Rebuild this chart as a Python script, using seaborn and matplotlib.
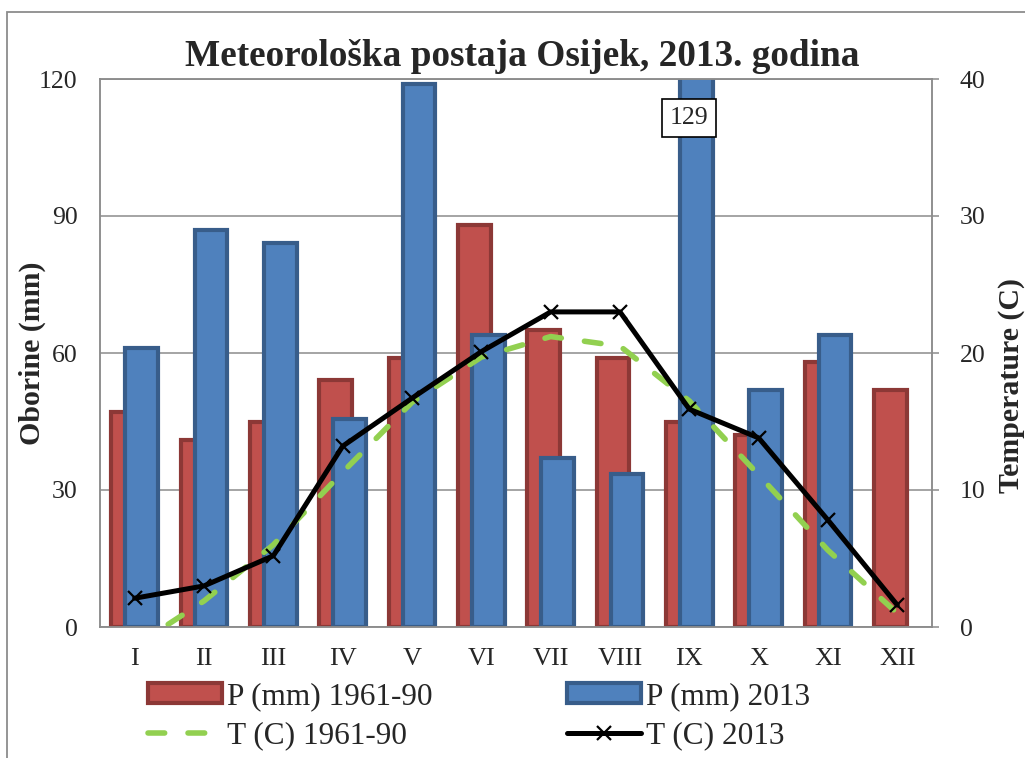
import numpy as np
import pandas as pd
import matplotlib
matplotlib.use("Agg")
import matplotlib.pyplot as plt
import seaborn as sns
from matplotlib.patches import Rectangle, Patch
from matplotlib.lines import Line2D

# ---------------- data ----------------
months = ["I", "II", "III", "IV", "V", "VI", "VII", "VIII", "IX", "X", "XI", "XII"]
p_normal = [47, 41, 45, 54, 59, 88, 65, 59, 45, 42, 58, 52]          # P (mm) 1961-90
p_2013 = [61, 87, 84, 45.5, 119, 64, 37, 33.5, 129, 52, 64, np.nan]  # P (mm) 2013
t_normal = [-1.4, 1.9, 6.0, 11.3, 16.4, 19.7, 21.2, 20.5, 16.5, 11.1, 5.6, 1.0]  # T (C) 1961-90
t_2013 = [2.1, 3.0, 5.2, 13.2, 16.7, 20.1, 23.0, 23.0, 15.9, 13.8, 7.8, 1.6]     # T (C) 2013
p_ticks = [0, 30, 60, 90, 120]
t_ticks = [0, 10, 20, 30, 40]

title = "Meteorološka postaja Osijek, 2013. godina"
lab_pn = "P (mm) 1961-90"
lab_p13 = "P (mm) 2013"
lab_tn = "T (C) 1961-90"
lab_t13 = "T (C) 2013"
ylabel_left = "Oborine (mm)"
ylabel_right = "Temperature (C)"
outlier_label = "129"

# ---------------- style ----------------
RED, RED_E = "#C0504D", "#8C3836"
BLUE, BLUE_E = "#4F81BD", "#385D8A"
GREEN = "#92D050"
GRID = "#8C8C8C"

sns.set_style("white")
plt.rcParams["font.family"] = ["Liberation Serif", "DejaVu Serif"]

W, H = 1025, 758
fig = plt.figure(figsize=(W / 100, H / 100), dpi=100)
ax = fig.add_axes([100 / W, 1 - 627 / H, 832 / W, 548 / H])

df = pd.DataFrame({
    "month": months * 2,
    "value": p_normal + p_2013,
    "series": [lab_pn] * 12 + [lab_p13] * 12,
})
sns.barplot(data=df, x="month", y="value", hue="series", order=months,
            hue_order=[lab_pn, lab_p13], palette=[RED, BLUE], saturation=1,
            dodge=True, width=0.4, gap=-1.35, errorbar=None, legend=False, ax=ax)
for cont, ec in zip(ax.containers, [RED_E, BLUE_E]):
    for bar in cont:
        bar.set_edgecolor(ec)
        bar.set_linewidth(3.0)

ax.set_xlim(-0.5, 11.5)
ax.set_ylim(0, 120)
ax.set_yticks(p_ticks)
ax.set_axisbelow(True)
ax.grid(axis="y", color=GRID, lw=1.1)
ax.grid(axis="x", visible=False)
ax.set_xlabel("")
ax.set_ylabel(ylabel_left, fontsize=21.5, fontweight="bold", va="center")
ax.yaxis.set_label_coords(-0.081, 0.5)
ax.tick_params(axis="y", length=0, pad=16, labelsize=18.5)
ax.tick_params(axis="x", length=0, pad=15, labelsize=19)
for s in ax.spines.values():
    s.set_color(GRID)
    s.set_linewidth(1.1)

ax.text(8, 111.5, outlier_label, ha="center", va="center", fontsize=18.5, zorder=10,
        bbox=dict(boxstyle="square,pad=0.3", fc="white", ec="black", lw=1.2))

# ---------------- temperature lines ----------------
ax2 = ax.twinx()
xs = np.arange(len(months))
sns.lineplot(x=xs, y=t_normal, ax=ax2, color=GREEN, lw=4,
             linestyle=(0, (3, 4.2)), dash_capstyle="round", legend=False)
sns.lineplot(x=xs, y=t_2013, ax=ax2, color="black", lw=3.6, marker="x",
             markersize=10, markeredgewidth=1.6, markeredgecolor="black", legend=False)
ax2.set_ylim(0, 40)
ax2.set_yticks(t_ticks)
ax2.grid(False)
ax2.tick_params(axis="y", length=5, width=1.1, color=GRID, pad=15, labelsize=18.5)
ax2.set_ylabel(ylabel_right, fontsize=21.5, fontweight="bold", rotation=90, va="center")
ax2.yaxis.set_label_coords(1.096, 0.44)
for s in ax2.spines.values():
    s.set_color(GRID)
    s.set_linewidth(1.1)

# ---------------- title, legend, frame ----------------
fig.text(522 / W, 1 - 66 / H, title, ha="center", va="baseline",
         fontsize=26.8, fontweight="bold")

handles = [
    Patch(facecolor=RED, edgecolor=RED_E, lw=3.0),
    Line2D([], [], color=GREEN, lw=4, linestyle=(0, (3, 4.2)), dash_capstyle="round"),
    Patch(facecolor=BLUE, edgecolor=BLUE_E, lw=3.0),
    Line2D([], [], color="black", lw=3.6, marker="x", markersize=10, markeredgewidth=1.6),
]
labels = [lab_pn, lab_tn, lab_p13, lab_t13]
fig.legend(handles, labels, ncol=2, loc="center", bbox_to_anchor=(479 / W, 1 - 716 / H),
           bbox_transform=fig.transFigure, frameon=False, fontsize=22.5,
           handlelength=2.37, handleheight=0.6, handletextpad=0.15, columnspacing=4.3,
           labelspacing=0.32, borderpad=0, borderaxespad=0)

fig.add_artist(Rectangle((7 / W, -0.1), 1.2, (1 - 12 / H) + 0.1,
                         transform=fig.transFigure, fill=False, ec="#8C8C8C", lw=1.3))

fig.savefig("out.png", dpi=100)
